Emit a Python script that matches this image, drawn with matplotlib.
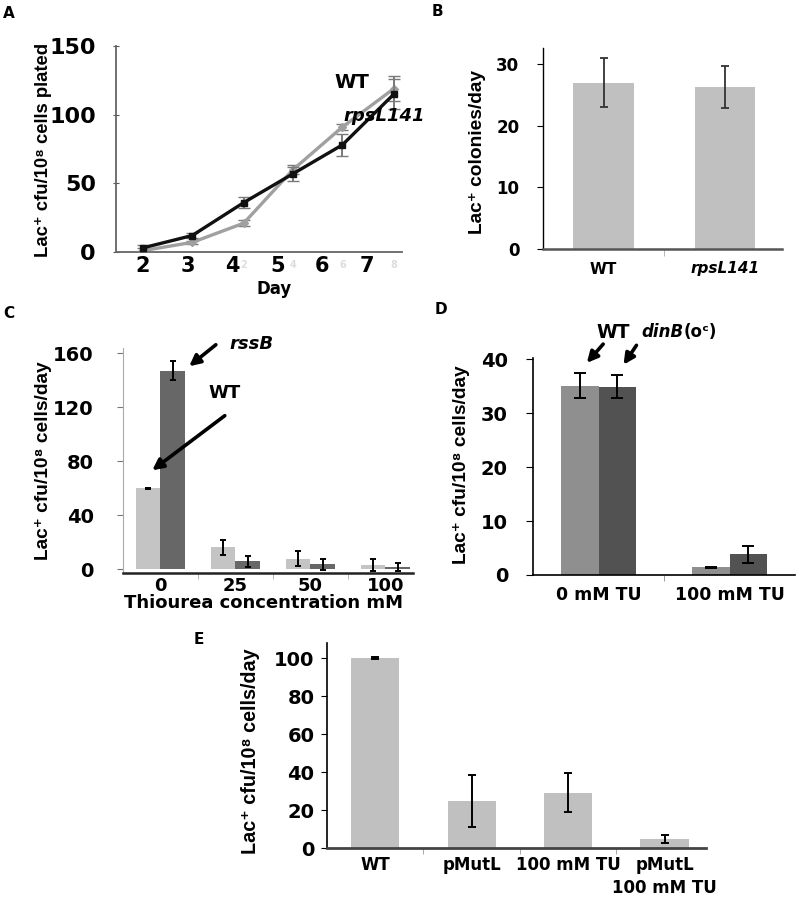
import numpy as np
import matplotlib
matplotlib.use('agg')
from matplotlib import pyplot as plt

plt.rcParams['font.family'] = ['DejaVu Sans']
plt.rcParams['font.weight'] = 'bold'

# panel A: mutation accumulation by day
days = [2, 3.1, 4.25, 5.35, 6.45, 7.6]
wt_a = [1, 7, 21, 60, 91, 119]
wt_a_err = [2, 1, 2, 3, 2, 9]
rpsl_a = [3, 12, 36, 57, 78, 115]
rpsl_a_err = [2, 2, 4, 5, 8, 11]
day_ticks = [2, 3, 4, 5, 6, 7]

# panel B
strains_b = ['WT', 'rpsL141']
colonies_b = [27, 26.2]
colonies_b_err = [4, 3.4]

# panel C: thiourea
tu_conc = ['0', '25', '50', '100']
wt_c = [60, 16.5, 8, 3.5]
wt_c_err = [0.5, 5.5, 5.5, 4.5]
rssb_c = [147, 6, 3.7, 1.7]
rssb_c_err = [7, 4.3, 4, 3]

# panel D
cond_d = ['0 mM TU', '100 mM TU']
wt_d = [35.1, 1.4]
wt_d_err = [2.35, 0.1]
dinb_d = [34.9, 3.8]
dinb_d_err = [2.1, 1.5]

# panel E
cond_e = ['WT', 'pMutL', '100 mM TU', 'pMutL\n100 mM TU']
vals_e = [100, 24.7, 29.1, 4.6]
vals_e_err = [0.3, 13.5, 10.3, 2.2]

W, H = 798, 899
fig = plt.figure(figsize=(W / 100, H / 100), dpi=100)


def rect(l, t, r, b):
    return [l / W, 1 - b / H, (r - l) / W, (b - t) / H]


def fp(x, y):
    return (x / W, 1 - y / H)


def label(x, y, s, size, **kw):
    fig.text(x / W, 1 - y / H, s, ha=kw.pop('ha', 'center'), va='center',
             fontsize=size, fontweight='bold', **kw)


def ylab(x, y, s, size):
    fig.text(x / W, 1 - y / H, s, rotation=90, ha='center', va='center',
             fontsize=size, fontweight='bold', family=['Liberation Sans', 'DejaVu Sans'])


def arrow(x0, y0, x1, y1):
    fig.add_artist(matplotlib.patches.FancyArrowPatch(
        fp(x0, y0), fp(x1, y1), transform=fig.transFigure,
        arrowstyle='-|>', mutation_scale=16, lw=2.6, color='black'))


def clean(ax):
    ax.spines['top'].set_visible(False)
    ax.spines['right'].set_visible(False)


# ---- A ----
ax = fig.add_axes(rect(116, 46, 402, 252))
clean(ax)
ax.errorbar(days, wt_a, yerr=wt_a_err, color='#a0a0a0', lw=2.4, marker='D', ms=4,
            ecolor='#7a7a7a', elinewidth=1.4, capsize=4, zorder=2)
ax.errorbar(days, rpsl_a, yerr=rpsl_a_err, color='#111111', lw=2.4, marker='s', ms=4,
            ecolor='#7a7a7a', elinewidth=1.4, capsize=4, zorder=3)
ax.set_xlim(1.4, 7.78)
ax.set_ylim(0, 150)
ax.set_yticks([0, 50, 100, 150])
ax.set_xticks(day_ticks)
ax.tick_params(axis='y', direction='inout', length=5, color='#555555', labelsize=16, pad=12)
ax.tick_params(axis='x', length=0, labelsize=15, pad=3)
for sp in ['left', 'bottom']:
    ax.spines[sp].set_color('#666666')
    ax.spines[sp].set_linewidth(1.3)
for i in range(2, 6):
    ax.text(days[i], -0.04, str(2 * (i - 1)), transform=ax.get_xaxis_transform(),
            ha='center', va='top', fontsize=7, color='#dddddd')
label(352, 83, 'WT', 14)
label(343, 116, 'rpsL141', 13, ha='left', style='italic')
label(274, 289, 'Day', 12)
ylab(44, 150, 'Lac⁺ cfu/10⁸ cells plated', 13.3)
label(9, 14, 'A', 11)

# ---- B ----
ax = fig.add_axes(rect(543, 48, 782, 249))
clean(ax)
xb = np.arange(len(strains_b))
ax.bar(xb, colonies_b, width=0.5, color='#c0c0c0')
ax.errorbar(xb, colonies_b, yerr=colonies_b_err, fmt='none', ecolor='#333333',
            elinewidth=1.3, capsize=3, capthick=1.3)
ax.set_xlim(-0.5, 1.47)
ax.set_ylim(0, 32.6)
ax.set_yticks([0, 10, 20, 30])
ax.set_xticks(xb)
ax.set_xticklabels(strains_b)
ax.get_xticklabels()[1].set_style('italic')
ax.set_xticks([0.5], minor=True)
ax.tick_params(axis='x', which='major', length=0, labelsize=11, pad=9)
ax.tick_params(axis='x', which='minor', length=5, color='#aaaaaa')
ax.tick_params(axis='y', length=4, labelsize=12, pad=13)
ax.spines['left'].set_linewidth(1.0)
ax.spines['bottom'].set_color('#555555')
ax.spines['bottom'].set_linewidth(1.8)
ylab(477, 152, 'Lac⁺ colonies/day', 13.8)
label(437, 11, 'B', 11)

# ---- C ----
ax = fig.add_axes(rect(123, 348, 413, 573))
clean(ax)
xc = np.arange(len(tu_conc))
ax.bar(xc - 0.165, wt_c, width=0.33, color='#c4c4c4')
ax.bar(xc + 0.165, rssb_c, width=0.33, color='#676767')
ax.errorbar(xc - 0.165, wt_c, yerr=wt_c_err, fmt='none', ecolor='black',
            elinewidth=1.4, capsize=2.5, capthick=1.4)
ax.errorbar(xc + 0.165, rssb_c, yerr=rssb_c_err, fmt='none', ecolor='black',
            elinewidth=1.4, capsize=2.5, capthick=1.4)
ax.set_xlim(-0.5, 3.37)
ax.set_ylim(-2.6, 163.7)
ax.set_yticks([0, 40, 80, 120, 160])
ax.set_xticks(xc)
ax.set_xticklabels(tu_conc)
ax.set_xticks([0.5, 1.5, 2.5], minor=True)
ax.tick_params(axis='x', which='major', length=0, labelsize=13, pad=3)
ax.tick_params(axis='x', which='minor', length=4, color='#aaaaaa')
ax.tick_params(axis='y', length=4, color='#777777', labelsize=14, pad=17)
ax.spines['left'].set_color('#aaaaaa')
ax.spines['bottom'].set_color('#222222')
ax.spines['bottom'].set_linewidth(1.8)
label(264, 603, 'Thiourea concentration mM', 13)
label(252, 344, 'rssB', 13, style='italic')
label(225, 393, 'WT', 13)
arrow(218, 343, 187, 368)
arrow(227, 414, 150, 472)
ylab(44, 461, 'Lac⁺ cfu/10⁸ cells/day', 13.8)
label(9, 314, 'C', 11)

# ---- D ----
ax = fig.add_axes(rect(533, 358, 795, 575))
clean(ax)
xd = np.arange(len(cond_d))
ax.bar(xd - 0.145, wt_d, width=0.29, color='#8f8f8f')
ax.bar(xd + 0.145, dinb_d, width=0.29, color='#525252')
ax.errorbar(xd - 0.145, wt_d, yerr=wt_d_err, fmt='none', ecolor='black',
            elinewidth=1.4, capsize=4, capthick=1.4)
ax.errorbar(xd + 0.145, dinb_d, yerr=dinb_d_err, fmt='none', ecolor='black',
            elinewidth=1.4, capsize=4, capthick=1.4)
ax.set_xlim(-0.5, 1.5)
ax.set_ylim(0, 40.2)
ax.set_yticks([0, 10, 20, 30, 40])
ax.set_xticks(xd)
ax.set_xticklabels(cond_d)
ax.set_xticks([0.5], minor=True)
ax.tick_params(axis='x', which='major', length=0, labelsize=12.5, pad=8)
ax.tick_params(axis='x', which='minor', length=4, color='#888888')
ax.tick_params(axis='y', length=5, labelsize=14, pad=13)
ax.spines['left'].set_linewidth(1.2)
ax.spines['bottom'].set_linewidth(1.2)
label(613, 332, 'WT', 13.5)
label(684, 332, 'dinB', 12, ha='right', style='italic')
label(684, 332, '(oᶜ)', 12, ha='left')
arrow(605, 342, 585, 365)
arrow(638, 343, 622, 367)
ylab(462, 465, 'Lac⁺ cfu/10⁸ cells/day', 13.8)
label(441, 309, 'D', 11)

# ---- E ----
ax = fig.add_axes(rect(327, 643, 706, 848))
clean(ax)
xe = np.arange(len(cond_e))
ax.bar(xe, vals_e, width=0.5, color='#c0c0c0')
ax.errorbar(xe, vals_e, yerr=vals_e_err, fmt='none', ecolor='black',
            elinewidth=1.4, capsize=3, capthick=1.4)
ax.set_xlim(-0.5, 3.43)
ax.set_ylim(0, 107.9)
ax.set_yticks([0, 20, 40, 60, 80, 100])
ax.set_xticks(xe)
ax.set_xticklabels(cond_e, linespacing=1.3)
ax.set_xticks([0.5, 1.5, 2.5], minor=True)
ax.tick_params(axis='x', which='major', length=0, labelsize=12, pad=6)
ax.tick_params(axis='x', which='minor', length=4, color='#999999')
ax.tick_params(axis='y', length=4, labelsize=14, pad=5)
ax.spines['left'].set_linewidth(1.2)
ax.spines['bottom'].set_color('#444444')
ax.spines['bottom'].set_linewidth(2)
ylab(250, 751, 'Lac⁺ cfu/10⁸ cells/day', 14.2)
label(199, 639, 'E', 11)

plt.savefig('out.png', dpi=100)
